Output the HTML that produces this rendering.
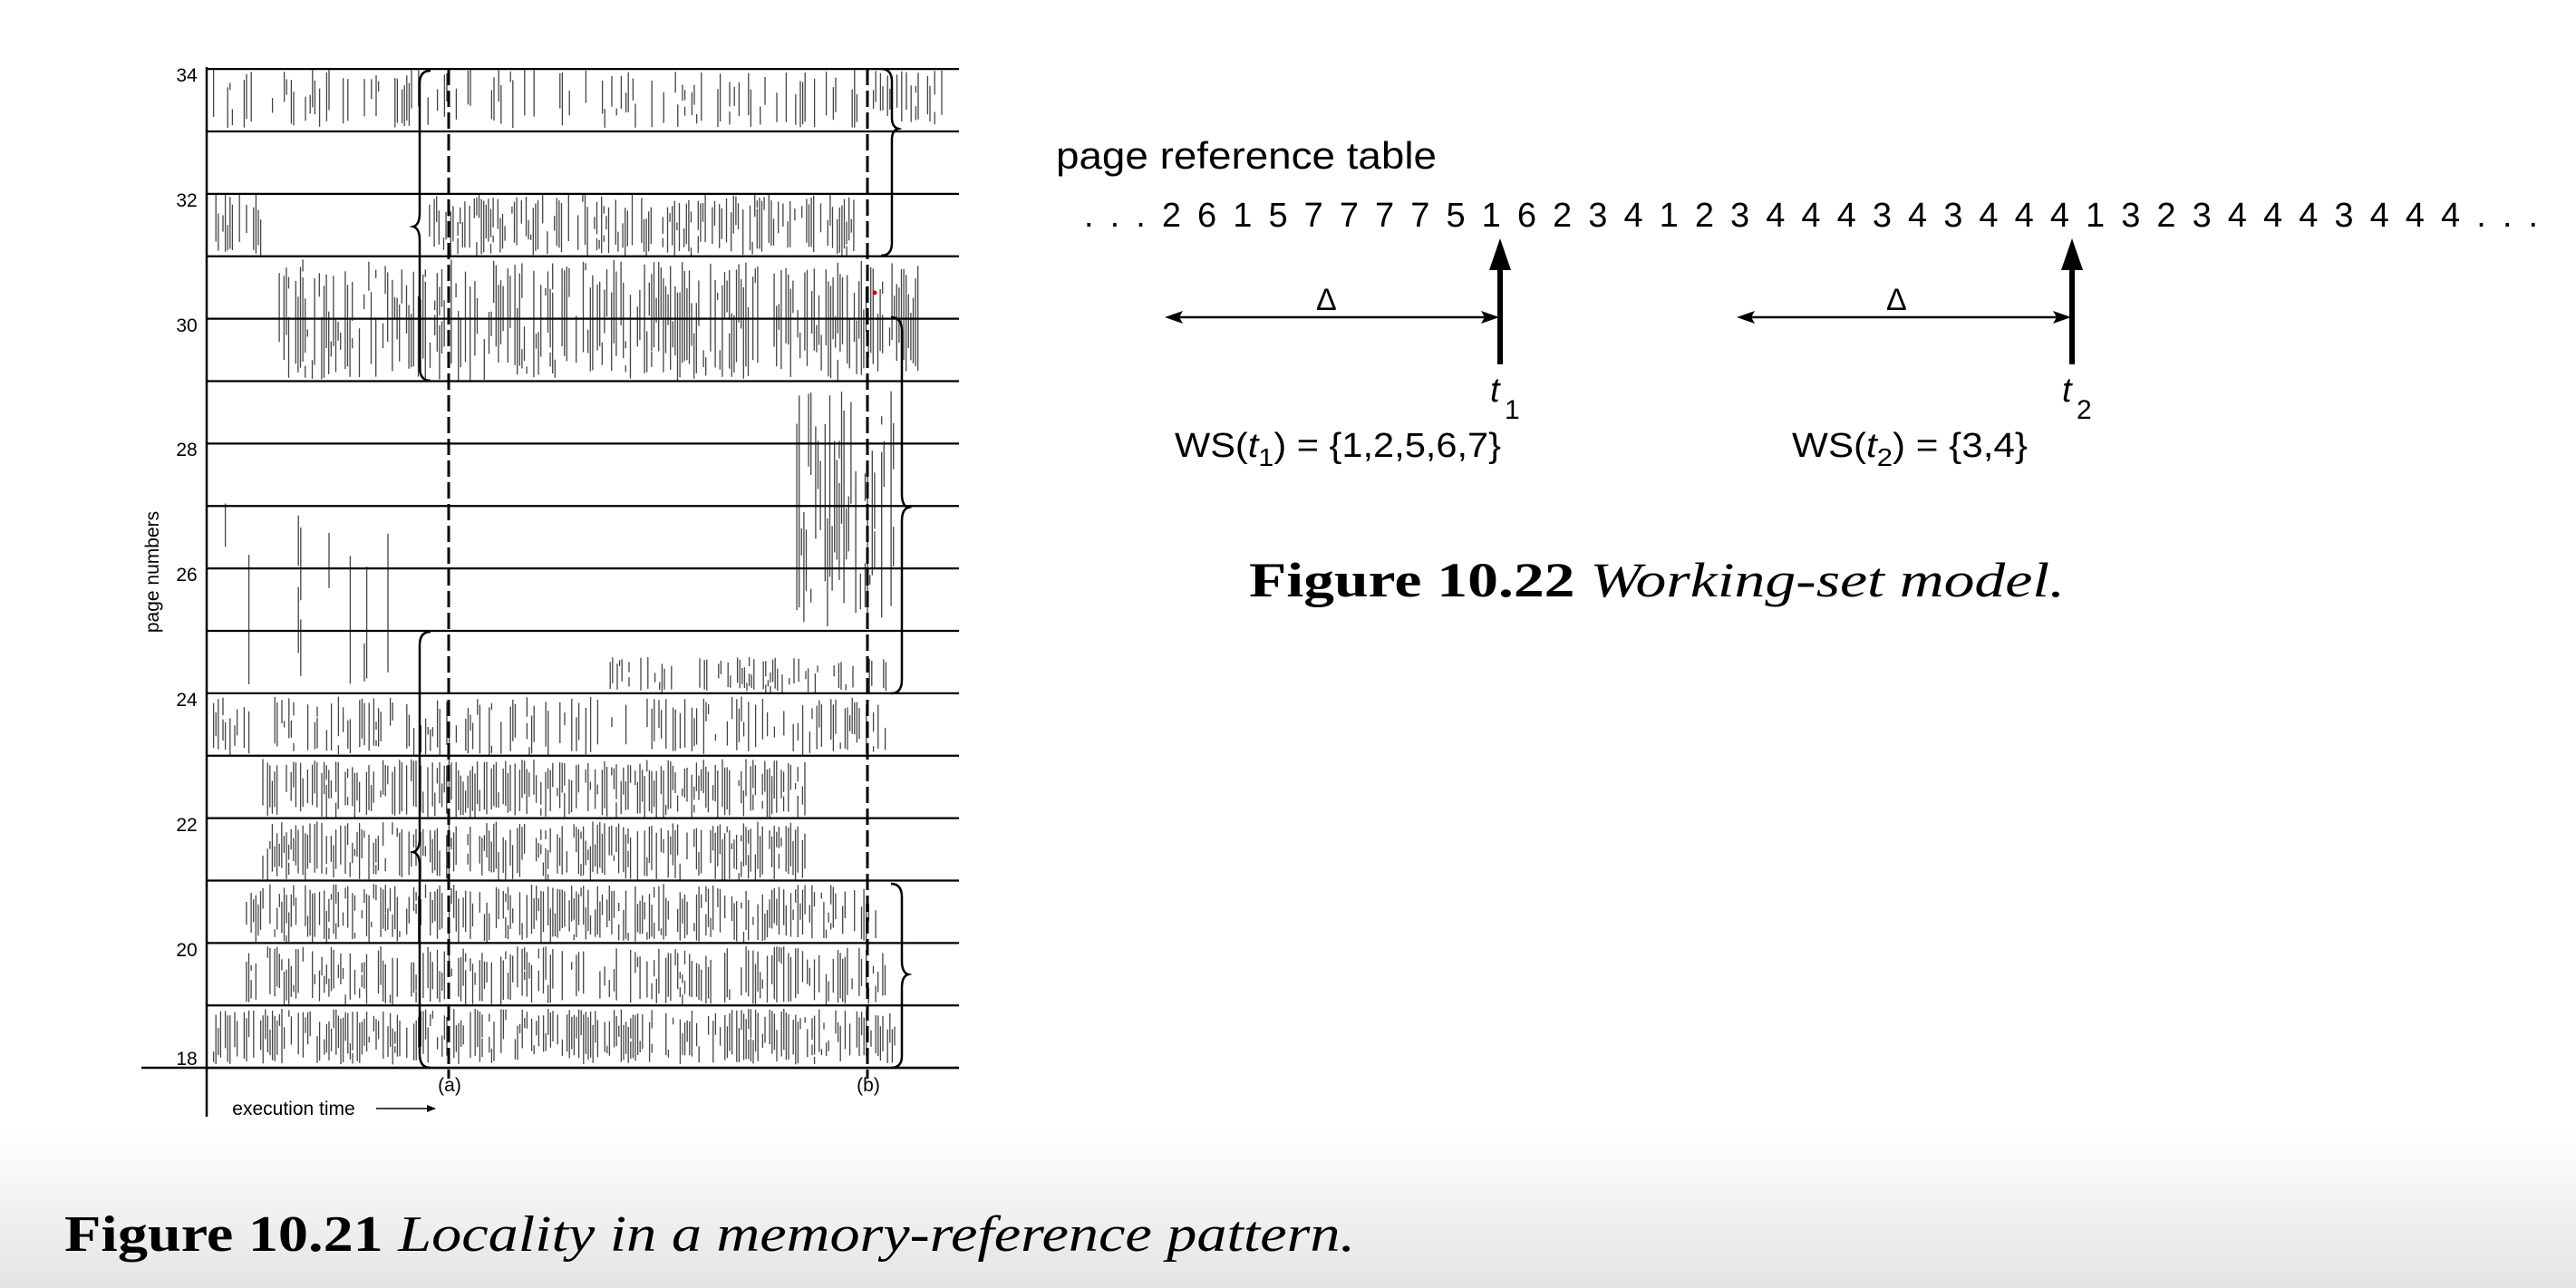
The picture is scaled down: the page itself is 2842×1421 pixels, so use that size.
<!DOCTYPE html>
<html><head><meta charset="utf-8"><style>html,body{margin:0;padding:0;background:#fff}svg{display:block}</style></head>
<body>
<svg id="s" width="2842" height="1421" viewBox="0 0 2842 1421" xmlns="http://www.w3.org/2000/svg">
<defs>
<linearGradient id="g" x1="0" y1="0" x2="0" y2="1"><stop offset="0" stop-color="#ffffff"/><stop offset="1" stop-color="#e4e4e4"/></linearGradient>
<marker id="ah" markerWidth="10" markerHeight="10" refX="9" refY="5" orient="auto" markerUnits="userSpaceOnUse"><path d="M0,1 L10,5 L0,9 Z" fill="#000"/></marker>
</defs>
<rect x="0" y="0" width="2842" height="1421" fill="#fff"/>
<rect x="0" y="1245" width="2842" height="176" fill="url(#g)"/>
<g id="tex" stroke="#444" stroke-width="1.3"></g>
<g id="grid" stroke="#000" stroke-width="2.2"></g>
<line x1="228" y1="74" x2="228" y2="1232" stroke="#000" stroke-width="2.5"/>
<line x1="156" y1="1178" x2="1058" y2="1178" stroke="#000" stroke-width="2.5"/>
<line x1="495" y1="76" x2="495" y2="1190" stroke="#000" stroke-width="3" stroke-dasharray="18,6"/>
<line x1="957" y1="76" x2="957" y2="1190" stroke="#000" stroke-width="3" stroke-dasharray="18,6"/>
<g font-family="Liberation Sans, sans-serif" font-size="21" fill="#000" text-anchor="middle">
<text x="206" y="90">34</text><text x="206" y="228">32</text><text x="206" y="366">30</text>
<text x="206" y="503">28</text><text x="206" y="641">26</text><text x="206" y="779">24</text>
<text x="206" y="917">22</text><text x="206" y="1055">20</text><text x="206" y="1175">18</text>
<text x="496" y="1204">(a)</text><text x="958" y="1204">(b)</text>
<text transform="translate(175,631) rotate(-90)">page numbers</text>
<text x="324" y="1230">execution time</text>
</g>
<line x1="415" y1="1223" x2="480" y2="1223" stroke="#000" stroke-width="1.5" marker-end="url(#ah)"/>
<g fill="none" stroke="#000" stroke-width="2.5">
<path d="M475,78 Q463,78 463,92 L463,235 Q463,248 456,250 Q463,252 463,265 L463,405 Q463,420 475,420"/>
<path d="M475,697 Q463,697 463,712 L463,925 Q463,938 456,940 Q463,942 463,955 L463,1163 Q463,1178 475,1178"/>
<path d="M972,76 Q984,76 984,90 L984,130 Q984,140 991,142 Q984,144 984,154 L984,268 Q984,282 972,282"/>
<path d="M983,350 Q995,350 995,365 L995,545 Q995,558 1002,560 Q995,562 995,575 L995,750 Q995,765 983,765"/>
<path d="M983,975 Q995,975 995,990 L995,1060 Q995,1073 1002,1075 Q995,1077 995,1090 L995,1165 Q995,1178 983,1178"/>
</g>
<circle cx="965" cy="323" r="2.5" fill="#c00"/>
<g font-family="Liberation Sans, sans-serif" fill="#000">
<text x="1165" y="186" font-size="42" textLength="420" lengthAdjust="spacingAndGlyphs">page reference table</text>
<text x="1196" y="250" font-size="38" textLength="1604" lengthAdjust="spacing">. . . 2 6 1 5 7 7 7 7 5 1 6 2 3 4 1 2 3 4 4 4 3 4 3 4 4 4 1 3 2 3 4 4 4 3 4 4 4 . . .</text>
<text x="1452" y="342" font-size="34">Δ</text>
<text x="2081" y="342" font-size="34">Δ</text>
<text x="1644" y="443" font-size="38" font-style="italic">t</text><text x="1660" y="462" font-size="30">1</text>
<text x="2275" y="443" font-size="38" font-style="italic">t</text><text x="2291" y="462" font-size="30">2</text>
<text x="1296" y="504" font-size="38" textLength="360" lengthAdjust="spacingAndGlyphs">WS(<tspan font-style="italic">t</tspan><tspan font-size="28" dy="10">1</tspan><tspan dy="-10">) = {1,2,5,6,7}</tspan></text>
<text x="1977" y="504" font-size="38" textLength="260" lengthAdjust="spacingAndGlyphs">WS(<tspan font-style="italic">t</tspan><tspan font-size="28" dy="10">2</tspan><tspan dy="-10">) = {3,4}</tspan></text>
</g>
<g stroke="#000">
<line x1="1655" y1="402" x2="1655" y2="290" stroke-width="6"/>
<line x1="2286" y1="402" x2="2286" y2="290" stroke-width="6"/>
<line x1="1300" y1="350" x2="1640" y2="350" stroke-width="2.5"/>
<line x1="1931" y1="350" x2="2271" y2="350" stroke-width="2.5"/>
</g>
<g fill="#000">
<path d="M1655,263 L1667,298 L1643,298 Z"/>
<path d="M2286,263 L2298,298 L2274,298 Z"/>
<path d="M1285,350 L1305,343 L1301,350 L1305,357 Z"/>
<path d="M1654,350 L1634,343 L1638,350 L1634,357 Z"/>
<path d="M1916,350 L1936,343 L1932,350 L1936,357 Z"/>
<path d="M2285,350 L2265,343 L2269,350 L2265,357 Z"/>
</g>
<text x="1378" y="658" font-family="Liberation Serif, serif" font-size="54" textLength="900" lengthAdjust="spacingAndGlyphs"><tspan font-weight="bold">Figure 10.22</tspan>  <tspan font-style="italic">Working-set model.</tspan></text>
<text x="71" y="1380" font-family="Liberation Serif, serif" font-size="56" textLength="1424" lengthAdjust="spacingAndGlyphs"><tspan font-weight="bold">Figure 10.21</tspan>  <tspan font-style="italic">Locality in a memory-reference pattern.</tspan></text>
</svg>
<script>
(function(){
var NS="http://www.w3.org/2000/svg",k=1.8125;
var grid=document.getElementById("grid");
for(var i=0;i<17;i++){var y=(42+i*38)*k;var l=document.createElementNS(NS,"line");
l.setAttribute("x1",228);l.setAttribute("x2",1058);l.setAttribute("y1",y);l.setAttribute("y2",y);grid.appendChild(l);}
var s=12345;function r(){s=(s*16807)%2147483647;return s/2147483647;}
var tex=document.getElementById("tex");
var R=[[130,575,42,78,0.3],[130,160,118,156,0.5],[260,520,118,156,0.7],[170,560,158,232,0.75],
[485,545,234,384,0.8],[370,540,400,422,0.5],[130,250,300,420,0.08],
[130,540,424,460,0.5],[160,490,462,498,0.75],[160,490,500,536,0.75],[150,540,538,574,0.75],
[150,540,576,612,0.6],[130,545,614,648,0.75]];
var paths=[];
R.forEach(function(a){var x0=a[0]*k,x1=a[1]*k,y0=a[2]*k,y1=a[3]*k,d=a[4];
for(var x=x0;x<x1;x+=2.6){ if(r()>d) continue;
 var n=1+Math.floor(r()*2);
 for(var j=0;j<n;j++){var h=6+r()*(y1-y0)*0.75;var yy=y0+r()*(y1-y0-h);
 paths.push("M"+x.toFixed(1)+","+yy.toFixed(1)+"v"+h.toFixed(1));}}});
var p=document.createElementNS(NS,"path");p.setAttribute("d",paths.join(""));tex.appendChild(p);
})();
</script>
</body></html>
